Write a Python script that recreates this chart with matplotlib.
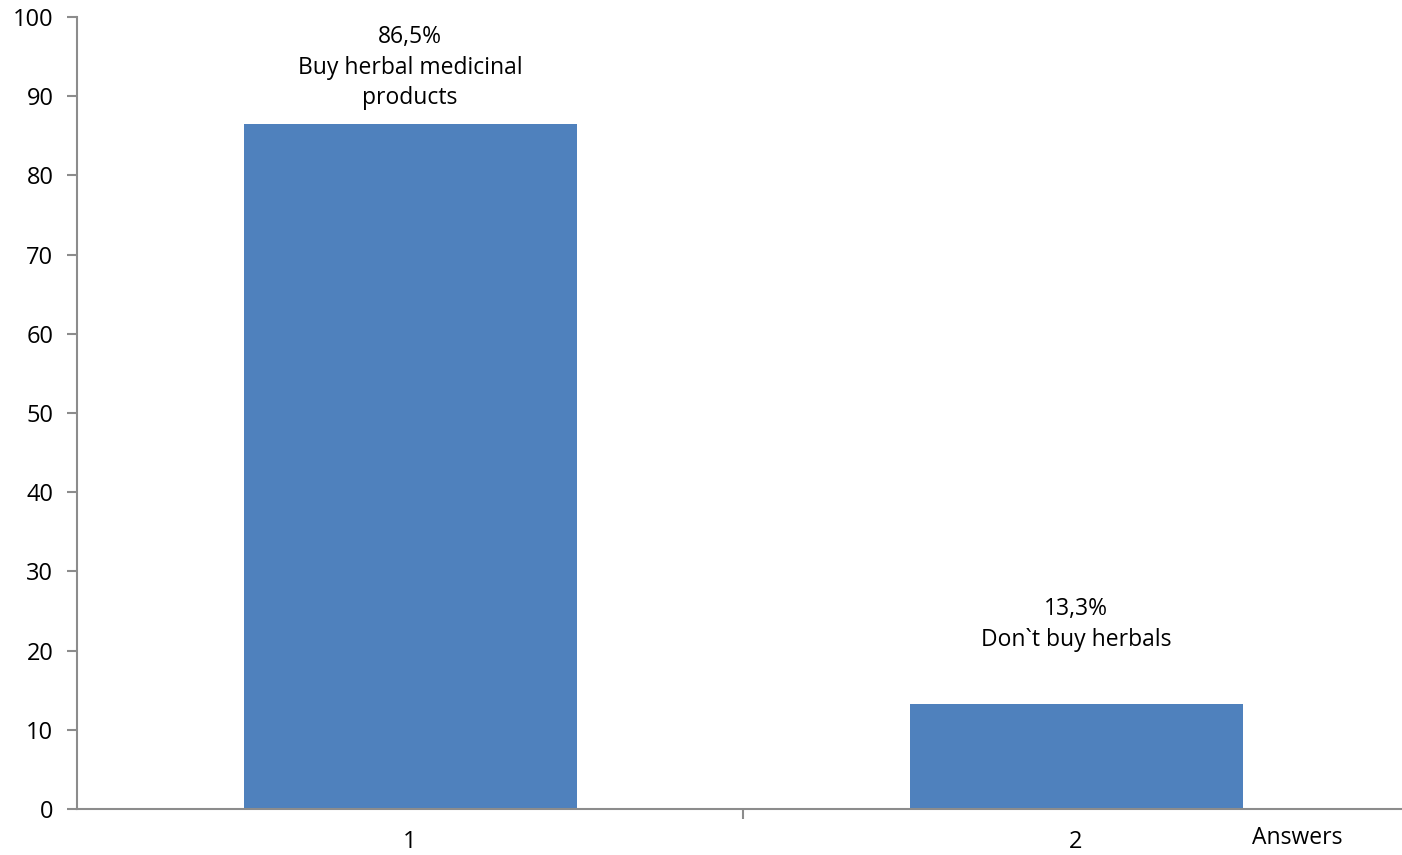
import matplotlib
matplotlib.use("Agg")
import matplotlib.pyplot as plt

categories = ["1", "2"]
values = [86.5, 13.3]
labels = ["86,5%\nBuy herbal medicinal\nproducts", "13,3%\nDon`t buy herbals"]
label_offsets = [14, 52]  # px above bar top

plt.rcParams['font.family'] = ['Open Sans', 'DejaVu Sans']

fig = plt.figure(figsize=(14.02, 8.55), dpi=100)
ax = fig.add_axes([77 / 1402, 46 / 855, 1332 / 1402, 792 / 855])

x = [1, 2]
bars = ax.bar(x, values, width=0.5, color="#4F81BD", zorder=2)

for b, lab, off in zip(bars, labels, label_offsets):
    ax.annotate(lab, (b.get_x() + b.get_width() / 2, b.get_height()),
                xytext=(0, off), textcoords="offset pixels",
                ha="center", va="bottom", fontsize=16.5, linespacing=1.35)

ax.set_xlim(0.5, 2.5)
ax.set_ylim(0, 100)
ax.set_yticks(range(0, 101, 10))
ax.set_xticks(x)
ax.set_xticklabels(categories)
ax.set_xticks([1.5], minor=True)

for s in ["top", "right"]:
    ax.spines[s].set_visible(False)
for s in ["left", "bottom"]:
    ax.spines[s].set_color("#8C8C8C")
    ax.spines[s].set_linewidth(1.5)

ax.tick_params(axis="y", direction="out", length=7, width=1.5, color="#8C8C8C",
               labelsize=17, pad=10)
ax.tick_params(axis="x", which="major", length=0, labelsize=17, pad=15)
ax.tick_params(axis="x", which="minor", direction="out", length=7, width=1.5, color="#8C8C8C")

fig.text(1297 / 1402, 1 - 838 / 855, "Answers", ha="center", va="center", fontsize=16.5)

fig.savefig("out.png", dpi=100)
